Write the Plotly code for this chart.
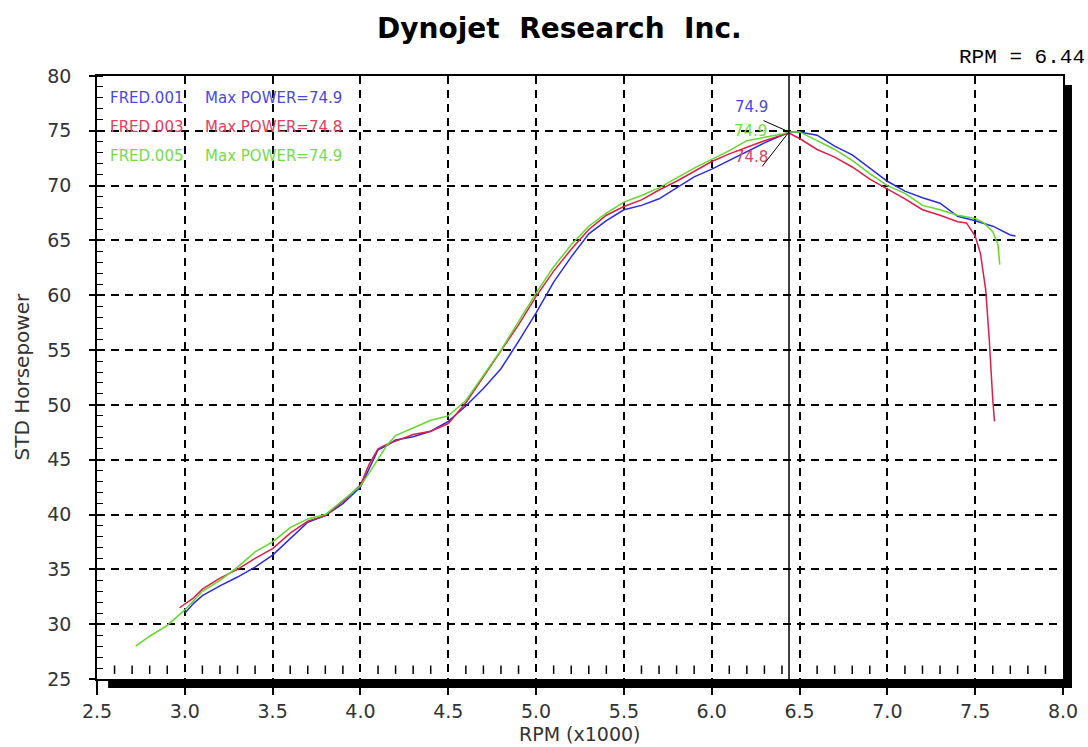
import numpy as np
import plotly.graph_objects as go

# ---------------- data ----------------
title_text = "Dynojet\u00a0\u00a0Research\u00a0\u00a0Inc."
cursor_rpm = 6.44

run_names = ["FRED.001", "FRED.003", "FRED.005"]

rpm_001 = [3.00, 3.05, 3.10, 3.20, 3.30, 3.40, 3.50, 3.60, 3.70, 3.80, 3.90, 4.00, 4.05, 4.10,
           4.15, 4.20, 4.30, 4.40, 4.50, 4.60, 4.70, 4.80, 4.90, 5.00, 5.10, 5.20, 5.30, 5.40,
           5.50, 5.60, 5.70, 5.80, 5.90, 6.00, 6.10, 6.20, 6.30, 6.40, 6.44, 6.50, 6.60, 6.70,
           6.80, 6.90, 7.00, 7.10, 7.20, 7.30, 7.40, 7.50, 7.60, 7.70, 7.73]
hp_001 = [31.0, 31.9, 32.6, 33.5, 34.3, 35.2, 36.3, 37.8, 39.3, 39.9, 41.0, 42.5, 44.2, 45.9,
          46.3, 46.8, 47.1, 47.6, 48.5, 49.9, 51.5, 53.3, 55.8, 58.4, 61.2, 63.5, 65.6, 66.8,
          67.8, 68.2, 68.8, 69.8, 70.8, 71.5, 72.3, 73.1, 73.9, 74.6, 74.9, 74.9, 74.6, 73.6,
          72.8, 71.6, 70.4, 69.5, 68.9, 68.4, 67.2, 66.8, 66.3, 65.5, 65.4]

rpm_003 = [2.97, 3.05, 3.10, 3.20, 3.30, 3.40, 3.50, 3.60, 3.70, 3.80, 3.90, 4.00, 4.05, 4.10,
           4.15, 4.20, 4.30, 4.40, 4.50, 4.60, 4.70, 4.80, 4.90, 5.00, 5.10, 5.20, 5.30, 5.40,
           5.50, 5.60, 5.70, 5.80, 5.90, 6.00, 6.10, 6.20, 6.30, 6.40, 6.44, 6.50, 6.60, 6.70,
           6.80, 6.90, 7.00, 7.10, 7.20, 7.30, 7.40, 7.45, 7.50, 7.53, 7.56, 7.58, 7.60, 7.61]
hp_003 = [31.5, 32.4, 33.2, 34.2, 35.0, 36.0, 36.9, 38.3, 39.4, 39.9, 41.2, 42.7, 44.6, 46.0,
          46.4, 46.7, 47.3, 47.6, 48.3, 50.2, 52.6, 54.9, 57.3, 59.9, 62.2, 64.2, 66.0, 67.3,
          68.1, 68.7, 69.6, 70.4, 71.3, 72.2, 72.9, 73.5, 74.1, 74.6, 74.8, 74.3, 73.3, 72.6,
          71.7, 70.6, 69.7, 68.8, 67.8, 67.3, 66.7, 66.6, 65.4, 63.8, 60.5, 56.0, 50.5, 48.5]

rpm_005 = [2.72, 2.80, 2.90, 3.00, 3.10, 3.20, 3.30, 3.40, 3.50, 3.60, 3.70, 3.80, 3.90, 4.00,
           4.05, 4.10, 4.15, 4.20, 4.30, 4.40, 4.50, 4.60, 4.70, 4.80, 4.90, 5.00, 5.10, 5.20,
           5.30, 5.40, 5.50, 5.60, 5.70, 5.80, 5.90, 6.00, 6.10, 6.20, 6.30, 6.40, 6.44, 6.50,
           6.60, 6.70, 6.80, 6.90, 7.00, 7.10, 7.20, 7.30, 7.40, 7.50, 7.55, 7.60, 7.63, 7.64]
hp_005 = [28.0, 28.9, 29.9, 31.3, 33.0, 34.0, 35.2, 36.6, 37.5, 38.8, 39.6, 40.0, 41.3, 42.6,
          43.8, 45.0, 46.3, 47.2, 47.9, 48.6, 49.0, 50.4, 52.7, 55.0, 57.6, 60.2, 62.6, 64.6,
          66.3, 67.5, 68.5, 69.1, 69.8, 70.7, 71.6, 72.4, 73.2, 74.1, 74.4, 74.7, 74.9, 74.9,
          74.1, 73.3, 72.3, 71.1, 70.0, 69.3, 68.2, 67.8, 67.3, 67.0, 66.6, 65.8, 64.6, 62.8]

x_ticks = [2.5, 3.0, 3.5, 4.0, 4.5, 5.0, 5.5, 6.0, 6.5, 7.0, 7.5, 8.0]
y_ticks = [25, 30, 35, 40, 45, 50, 55, 60, 65, 70, 75, 80]

# ---------------- styling ----------------
line_colors = ["#2b2be0", "#dc1e4a", "#62d82a"]
text_colors = ["#4848e6", "#e2405e", "#74dd48"]
series = [(rpm_001, hp_001), (rpm_003, hp_003), (rpm_005, hp_005)]

fig = go.Figure()

# minor tick row along the bottom of the plot
minor_rpm = [round(v, 1) for v in np.arange(2.6, 8.0, 0.1) if abs(v * 2 - round(v * 2)) > 1e-6]
fig.add_trace(go.Scatter(
    x=minor_rpm, y=[25.85] * len(minor_rpm), mode="markers",
    marker=dict(symbol="line-ns", size=6, line=dict(width=1.5, color="black")),
    hoverinfo="skip", showlegend=False))

for (r, h), name, col in zip(series, run_names, line_colors):
    fig.add_trace(go.Scatter(x=r, y=h, mode="lines", name=name,
                             line=dict(color=col, width=1.5), showlegend=False))

# legend-like text block
leg_y = [0.9635, 0.915, 0.867]
for (r, h), name, tc, yy in zip(series, run_names, text_colors, leg_y):
    fig.add_annotation(xref="paper", yref="paper", x=0.0115, y=yy, xanchor="left",
                       yanchor="middle", text=name, showarrow=False,
                       font=dict(family="DejaVu Sans", size=15, color=tc))
    fig.add_annotation(xref="paper", yref="paper", x=0.110, y=yy, xanchor="left",
                       yanchor="middle", text=f"Max POWER={max(h):.1f}", showarrow=False,
                       font=dict(family="DejaVu Sans", size=15, color=tc))

# peak labels (blue above, green level, red below)
shifts = [(-38, 25), (-38, -24), (-39, 1)]
for (r, h), tc, (dx, dy) in zip(series, text_colors, shifts):
    fig.add_annotation(x=cursor_rpm, y=max(h), text=f"{max(h):.1f}", showarrow=False,
                       xshift=dx, yshift=dy,
                       font=dict(family="DejaVu Sans", size=15, color=tc))
peak_hp = max(hp_001)
fig.add_annotation(x=cursor_rpm, y=peak_hp, text="", showarrow=True, arrowhead=0,
                   arrowwidth=1, arrowcolor="black", ax=-27, ay=-12, standoff=0)
fig.add_annotation(x=cursor_rpm, y=peak_hp, text="", showarrow=True, arrowhead=0,
                   arrowwidth=1, arrowcolor="black", ax=-28, ay=36, standoff=0)

# cursor line
fig.add_shape(type="line", xref="x", yref="paper", x0=cursor_rpm, x1=cursor_rpm, y0=0, y1=1,
              line=dict(color="black", width=1.5), layer="above")

# drop-shadow frame (bottom and right)
fig.add_shape(type="rect", xref="paper", yref="paper", x0=0.0115, x1=1.0093, y0=-0.0150,
              y1=-0.0020, fillcolor="black", line=dict(width=0), layer="above")
fig.add_shape(type="rect", xref="paper", yref="paper", x0=1.0000, x1=1.0093, y0=-0.0150,
              y1=0.985, fillcolor="black", line=dict(width=0), layer="above")

# title, axis titles and cursor readout
fig.add_annotation(xref="paper", yref="paper", x=0.479, y=1.0, yshift=48, text=title_text,
                   showarrow=False, xanchor="center", yanchor="middle",
                   font=dict(family="DejaVu Sans", size=28, color="black", weight="bold"))
fig.add_annotation(xref="paper", yref="paper", x=1.0, y=1.0, xshift=24, yshift=19,
                   xanchor="right", yanchor="middle", text=f"RPM = {cursor_rpm:.2f}",
                   showarrow=False, font=dict(family="Liberation Mono", size=21, color="black"))
fig.add_annotation(xref="paper", yref="paper", x=0.5, y=0.0, yshift=-55,
                   xanchor="center", yanchor="middle", text="RPM (x1000)", showarrow=False,
                   font=dict(family="DejaVu Sans", size=19, color="#333"))
fig.add_annotation(xref="paper", yref="paper", x=0.0, y=0.5, xshift=-76,
                   xanchor="center", yanchor="middle", text="STD Horsepower", textangle=-90,
                   showarrow=False, font=dict(family="DejaVu Sans", size=20, color="#333"))

grid_common = dict(showgrid=True, gridcolor="black", gridwidth=1.5, griddash="8px,6px",
                   showline=True, linecolor="black", linewidth=1.5, mirror=True, zeroline=False,
                   automargin=False)

fig.update_xaxes(range=[2.5, 8.0], tickvals=x_ticks, ticktext=[f"{v:.1f}" for v in x_ticks],
                 ticks="outside", ticklen=14, tickwidth=1.5, tickcolor="black",
                 ticklabelstandoff=0,
                 tickfont=dict(family="DejaVu Sans", size=19, color="#333"),
                 **grid_common)
fig.update_yaxes(range=[25, 80], tickvals=y_ticks, ticks="outside", ticklen=6, tickwidth=1.5,
                 tickcolor="black", ticklabelstandoff=14,
                 minor=dict(ticks="inside", ticklen=6, tickwidth=1.2, tickcolor="black",
                            dtick=1, showgrid=False),
                 tickfont=dict(family="DejaVu Sans", size=19, color="#333"),
                 **grid_common)

fig.update_layout(width=1088, height=747, margin=dict(l=97, r=25, t=76, b=68),
                  plot_bgcolor="white", paper_bgcolor="white", showlegend=False,
                  hovermode=False)

fig.write_html("out.html", config={"displayModeBar": False},
               post_script="document.body.style.margin='0';document.body.style.overflow='hidden';")
